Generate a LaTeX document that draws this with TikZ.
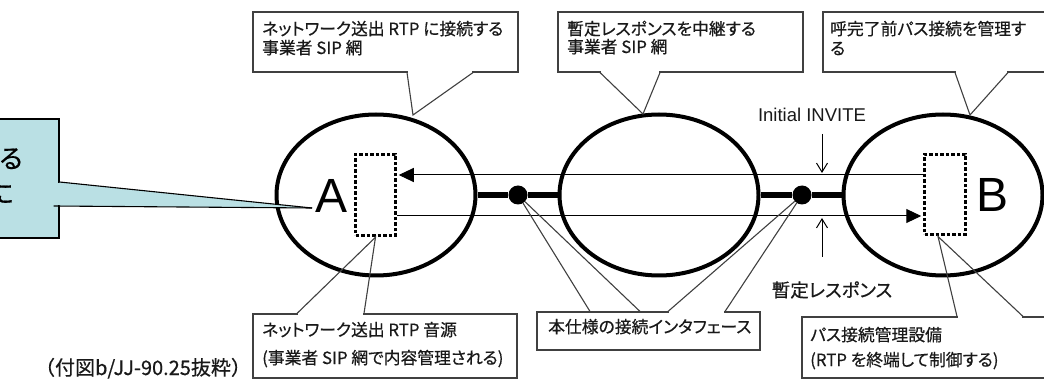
\documentclass[tikz,border=0pt]{standalone}
\usepackage{fontspec}
\setmainfont{Noto Sans CJK JP}[RawFeature=+palt, FakeBold=0.5]
\newfontfamily\jpfull{Noto Sans CJK JP}[FakeBold=0.5]
\newfontfamily\arialf{Liberation Sans}
\usetikzlibrary{shapes.geometric,arrows.meta,calc}
\definecolor{callcyan}{RGB}{186,224,228}
\definecolor{boxgray}{RGB}{64,64,64}
\begin{document}
\begin{tikzpicture}[x=1pt,y=-1pt,
 net/.style={ellipse, draw=black, line width=4pt, minimum width=199pt, minimum height=161pt, inner sep=0pt},
 dotbox/.style={rectangle, draw=black, line width=3.5pt, dash pattern=on 3.5pt off 2pt, inner sep=0pt},
 jdot/.style={circle, fill=black, minimum size=19pt, inner sep=0pt},
 trunk/.style={line width=5.5pt},
 sig/.style={line width=1pt},
 callbox/.style={rectangle, draw=boxgray, line width=1.1pt, fill=white, inner sep=0pt},
 ptr/.style={draw=boxgray, line width=1.1pt},
 jp/.style={anchor=base west, inner sep=0pt, font=\fontsize{16.8}{19}\selectfont, text=black!90},
 big/.style={anchor=base west, inner sep=0pt, font=\arialf\fontsize{48}{50}\selectfont},
]
\useasboundingbox (0,0) rectangle (1044,379);
\fill[white] (0,0) rectangle (1044,379);

% networks
\node[net] (L) at (376,195) {};
\node[net] (M) at (659,195) {};
\node[net] (R) at (943,195) {};
\node[jdot] (d1) at (518,195) {};
\node[jdot] (d2) at (802,195) {};
\draw[trunk] (L.east) -- (d1) -- (M.west);
\draw[trunk] (M.east) -- (d2) -- (R.west);

% source / terminating boxes
\node[dotbox, minimum width=40pt, minimum height=81pt] (Abox) at (375.5,195) {};
\node[dotbox, minimum width=41pt, minimum height=80pt] (Bbox) at (945,194.5) {};

% signal lines
\draw[sig, -{Triangle[length=15pt,width=14pt]}, shorten >=1.5pt] (Bbox.west |- 0,175) -- (Abox.east |- 0,175);
\draw[sig, -{Triangle[length=15pt,width=14pt]}, shorten >=1.5pt] (Abox.east |- 0,216) -- (Bbox.west |- 0,216);

% Initial INVITE / provisional response markers
\coordinate (i1s) at (822,134);
\coordinate (i1e) at (822,173);
\coordinate (i2s) at (822,257);
\coordinate (i2e) at (822,218);
\draw[sig, -{Straight Barb[length=9pt,width=11pt]}] (i1s) -- (i1e);
\draw[sig, -{Straight Barb[length=9pt,width=11pt]}] (i2s) -- (i2e);
\node[anchor=base, inner sep=0pt, font=\arialf\fontsize{18.5}{20}\selectfont, text=black!90] (inv) at (812,122) {Initial INVITE};
\node[anchor=base, inner sep=0pt, font=\fontsize{18.5}{20}\selectfont, text=black!90] (prov) at (832,297) {暫定レスポンス};

% letters
\node[big] (labA) at (315,213) {A};
\node[big] (labB) at (976.5,212) {B};

% top-left callout
\node[callbox, minimum width=265pt, minimum height=60pt] (cTL) at (385.5,42) {};
\coordinate (pTL) at (413,115);
\fill[white] (408,70.5) rectangle (472,73.5);
\draw[ptr] (cTL.south -| 407,0) -- (pTL) -- (cTL.south -| 473,0);
\node[jp] (tTL1) at (262,35) {ネットワーク送出 RTP に接続する};
\node[jp] (tTL2) at (262,54) {事業者 SIP 網};

% top-middle callout
\node[callbox, minimum width=245pt, minimum height=60pt] (cTM) at (680.5,42) {};
\coordinate (pTM) at (643,114);
\fill[white] (601,70.5) rectangle (659,73.5);
\draw[ptr] (cTM.south -| 600,0) -- (pTM) -- (cTM.south -| 660,0);
\node[jp] (tTM1) at (567,35) {暫定レスポンスを中継する};
\node[jp] (tTM2) at (567,53) {事業者 SIP 網};

% top-right callout
\node[callbox, minimum width=237pt, minimum height=60pt] (cTR) at (941.5,42) {};
\coordinate (pTR) at (970,115);
\fill[white] (956,70.5) rectangle (1007,73.5);
\draw[ptr] (cTR.south -| 955,0) -- (pTR) -- (cTR.south -| 1008,0);
\node[jp] (tTR1) at (830,35) {呼完了前パス接続を管理す};
\node[jp] (tTR2) at (830,54.5) {る};

% bottom-left callout
\node[callbox, minimum width=264pt, minimum height=64pt] (cBL) at (385,346) {};
\fill[white] (298,312.5) rectangle (363,315.5);
\draw[ptr] (cBL.north -| 297,0) -- (Abox.south) -- (cBL.north -| 364,0);
\node[jp] (tBL1) at (262,336) {ネットワーク送出 RTP 音源};
\node[jp] (tBL2) at (262,364) {(事業者 SIP 網で内容管理される)};

% bottom-middle callout
\node[callbox, minimum width=223pt, minimum height=38pt] (cBM) at (648.5,331) {};
\fill[white] (669,310.5) rectangle (724,313.5);
\draw[ptr] (cBM.north -| 668,0) -- (d2) -- (cBM.north -| 725,0);
\draw[ptr] (cBM.north -| 590,0) -- (d1) -- (cBM.north -| 640,0);
\node[jp] (tBM) at (548,333) {本仕様の接続インタフェース};

% bottom-right callout
\node[callbox, minimum width=258pt, minimum height=61pt] (cBR) at (931,347.5) {};
\coordinate (pBR) at (938,236.5);
\fill[white] (958,315.5) rectangle (1022,318.5);
\draw[ptr] (cBR.north -| 957,0) -- (pBR) -- (cBR.north -| 1023,0);
\node[jp] (tBR1) at (810,341) {パス接続管理設備};
\node[jp] (tBR2) at (810,366) {(RTP を終端して制御する)};

% cyan callout (cut at the left edge)
\node[callbox, draw=black, fill=callcyan, minimum width=80pt, minimum height=119pt] (cA) at (19,178.5) {};
\coordinate (pA) at (312,208);
\fill[callcyan] (cA.east |- 0,182) -- (pA) -- (cA.east |- 0,206) -- cycle;
\fill[callcyan] (57,183) rectangle (61,205);
\draw[black, line width=1.1pt] (cA.east |- 0,182) -- (pA);
\draw[black, line width=1.1pt] ($(cA.east |- 0,206)+(-6,0)$) -- (pA);
\node[anchor=base, inner sep=0pt, font=\fontsize{26}{28}\selectfont] (tA1) at (11,168) {る};
\node[anchor=base, inner sep=0pt, font=\fontsize{26}{28}\selectfont] (tA2) at (1,203) {に};

% caption
\node[anchor=base, inner sep=0pt, font=\jpfull\fontsize{20}{22}\selectfont, text=black!90] (cap) at (143,375) {（付図b/JJ-90.25抜粋）};
\end{tikzpicture}
\end{document}
